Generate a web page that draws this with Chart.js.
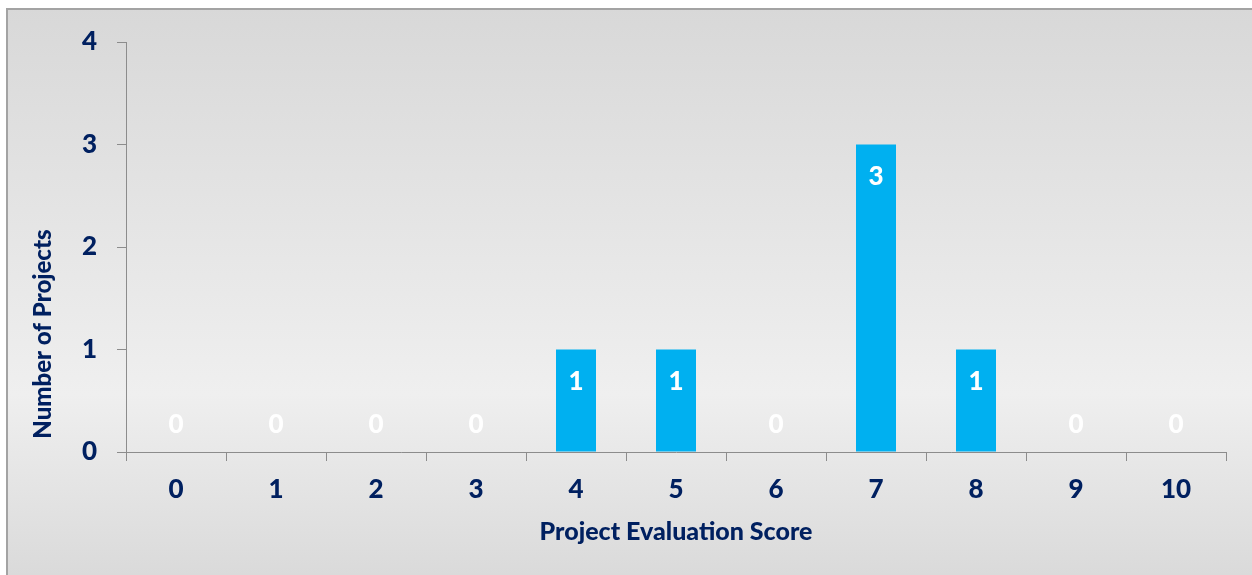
<!DOCTYPE html>
<html>
<head>
<meta charset="utf-8">
<script src="https://cdn.jsdelivr.net/npm/chart.js@4.4.1/dist/chart.umd.min.js"></script>
<style>
  html, body { margin: 0; padding: 0; background: #ffffff; }
  #wrap { width: 1252px; height: 575px; position: relative; }
</style>
</head>
<body>
<div id="wrap"><canvas id="c" width="1252" height="575"></canvas></div>
<script>
const categories = ["0", "1", "2", "3", "4", "5", "6", "7", "8", "9", "10"];
const projectCounts = [0, 0, 0, 0, 1, 1, 0, 3, 1, 0, 0];
const yTickValues = [0, 1, 2, 3, 4];
const xAxisTitle = "Project Evaluation Score";
const yAxisTitle = "Number of Projects";

const NAVY = "#002060";
const AXIS = "#8C8C8C";
const FONT = "Lato, 'Open Sans', 'DejaVu Sans', sans-serif";

const backgroundPlugin = {
  id: "bgPanel",
  beforeDraw(chart) {
    const ctx = chart.ctx;
    const W = chart.width, H = chart.height;
    ctx.save();
    ctx.fillStyle = "#ffffff";
    ctx.fillRect(0, 0, W, H);
    const g = ctx.createLinearGradient(0, 8, 0, H);
    g.addColorStop(0, "#D8D8D8");
    g.addColorStop(0.68, "#EFEFEF");
    g.addColorStop(1, "#DADADA");
    ctx.fillStyle = g;
    ctx.fillRect(7, 9, W - 7, H - 9);
    ctx.strokeStyle = "#A3A3A3";
    ctx.lineWidth = 2;
    ctx.beginPath();
    ctx.moveTo(7, H + 2);
    ctx.lineTo(7, 9);
    ctx.lineTo(W + 2, 9);
    ctx.stroke();
    ctx.restore();
  }
};

const labelsPlugin = {
  id: "barValueLabels",
  afterDatasetsDraw(chart) {
    const ctx = chart.ctx;
    const meta = chart.getDatasetMeta(0);
    const data = chart.data.datasets[0].data;
    ctx.save();
    ctx.fillStyle = "#ffffff";
    ctx.font = "900 26px " + FONT;
    ctx.textAlign = "center";
    ctx.textBaseline = "middle";
    meta.data.forEach((el, i) => {
      const v = data[i];
      const y = v > 0 ? el.y + 32 : el.base - 27;
      ctx.fillText(String(v), el.x, y);
    });
    ctx.restore();
  }
};

const yTitlePlugin = {
  id: "yTitle",
  afterDraw(chart) {
    const ctx = chart.ctx;
    ctx.save();
    ctx.translate(43, 334);
    ctx.rotate(-Math.PI / 2);
    ctx.fillStyle = NAVY;
    ctx.font = "900 24px " + FONT;
    ctx.textAlign = "center";
    ctx.textBaseline = "middle";
    ctx.fillText(yAxisTitle, 0, 0);
    ctx.restore();
  }
};

new Chart(document.getElementById("c"), {
  type: "bar",
  data: {
    labels: categories,
    datasets: [{
      data: projectCounts,
      backgroundColor: "#00B0F0",
      borderWidth: 0,
      barPercentage: 0.4,
      categoryPercentage: 1.0
    }]
  },
  options: {
    responsive: false,
    animation: false,
    layout: { padding: { left: 0, top: 42, right: 26, bottom: 0 } },
    plugins: { legend: { display: false }, tooltip: { enabled: false }, title: { display: false } },
    scales: {
      x: {
        afterFit(s) { s.height = 123; },
        grid: { display: true, drawOnChartArea: false, drawTicks: true, tickLength: 9, color: AXIS, lineWidth: 1, offset: true },
        border: { display: true, color: AXIS, width: 1 },
        ticks: { color: NAVY, font: { family: FONT, size: 26, weight: "900" }, padding: 13, maxRotation: 0, autoSkip: false },
        title: { display: true, text: xAxisTitle, color: NAVY, font: { family: FONT, size: 25, weight: "900" }, padding: { top: 0, bottom: 28 } }
      },
      y: {
        min: 0,
        max: 4,
        afterFit(s) { s.width = 126; },
        afterBuildTicks(s) { s.ticks = yTickValues.map(v => ({ value: v })); },
        grid: { display: true, drawOnChartArea: false, drawTicks: true, tickLength: 9, color: AXIS, lineWidth: 1 },
        border: { display: true, color: AXIS, width: 1 },
        ticks: { color: NAVY, font: { family: FONT, size: 26, weight: "900" }, padding: 20, stepSize: 1 }
      }
    }
  },
  plugins: [backgroundPlugin, labelsPlugin, yTitlePlugin]
});
</script>
</body>
</html>
